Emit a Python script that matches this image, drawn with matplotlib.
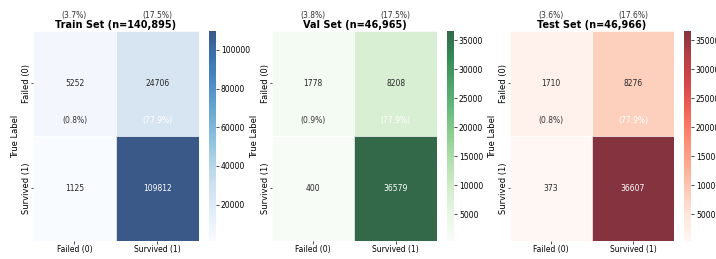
import numpy as np
import matplotlib
matplotlib.use("Agg")
import matplotlib.pyplot as plt
import seaborn as sns

plt.rcParams['font.family'] = ['Liberation Sans Narrow', 'DejaVu Sans']

# confusion matrices: rows = true label, cols = predicted label
class_labels = ["Failed (0)", "Survived (1)"]
set_names = ["Train Set", "Val Set", "Test Set"]
train_cm = [[5252, 24706], [1125, 109812]]
val_cm = [[1778, 8208], [400, 36579]]
test_cm = [[1710, 8276], [373, 36607]]
cmaps = ["Blues", "Greens", "Reds"]

fig = plt.figure(figsize=(7.16, 2.59), dpi=100)

# panel positions in figure fraction (left, bottom, width, height)
heat_pos = [
    [0.0461, 0.0695, 0.2318, 0.811],
    [0.3799, 0.0695, 0.2304, 0.811],
    [0.7123, 0.0695, 0.2290, 0.811],
]
cbar_left = [0.2919, 0.6243, 0.9553]

for k, (name, cm, cmap) in enumerate(zip(set_names, [train_cm, val_cm, test_cm], cmaps)):
    cm = np.array(cm)
    total = cm.sum()
    ax = fig.add_axes(heat_pos[k])
    cax = fig.add_axes([cbar_left[k], 0.0695, 0.0098, 0.811])
    sns.heatmap(cm, annot=True, fmt="d", cmap=cmap, ax=ax, cbar_ax=cax,
                alpha=0.8, linewidths=0.5, linecolor="white",
                xticklabels=class_labels, yticklabels=class_labels,
                annot_kws={"size": 5.5})
    # percentage labels
    for i in range(2):
        for j in range(2):
            pct = cm[i, j] / total * 100
            color = "white" if cm[i, j] > cm.max() / 2 else "#333333"
            ax.text(j + 0.5, i - 0.15, f"({pct:.1f}%)", ha="center", va="center",
                    fontsize=5.5, color=color)
    ax.set_title(f"{name} (n={total:,})", fontsize=7, fontweight="bold", pad=2)
    ax.set_ylabel("True Label", fontsize=6, labelpad=1)
    ax.set_xlabel("Predicted Label", fontsize=5.5)
    ax.tick_params(axis="x", labelsize=5.5, length=2, width=0.5, pad=0.8)
    ax.tick_params(axis="y", labelsize=6, length=1.5, width=0.5, pad=0.3)
    ax.set_yticklabels(class_labels, rotation=90, va="center")
    ax.set_xticklabels(class_labels, rotation=0)
    cax.tick_params(labelsize=5.5, length=2, width=0.5, pad=1.5)

fig.savefig("out.png", dpi=100)
